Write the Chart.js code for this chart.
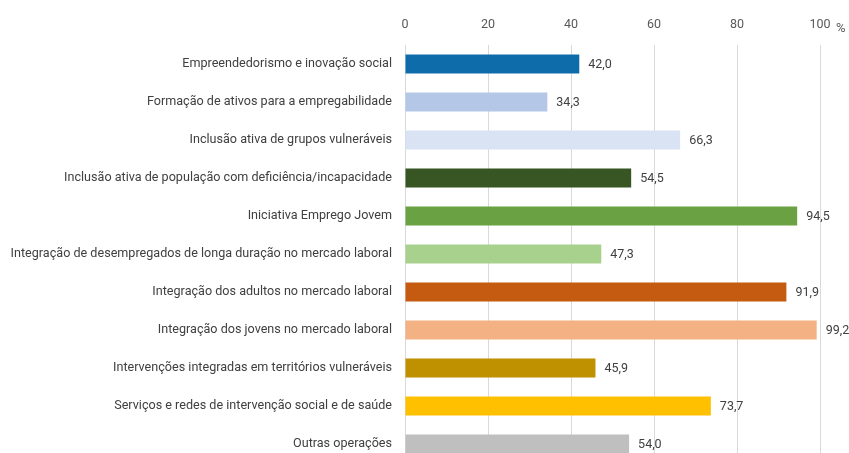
<!DOCTYPE html>
<html lang="pt">
<head>
    <meta charset="UTF-8">
    <title>Taxa por tipologia de operação</title>
    <style>
        html, body {
            margin: 0;
            padding: 0;
            background: #fff;
            overflow: hidden;
        }
        .chart-wrap {
            position: relative;
            width: 849px;
            height: 463px;
        }
    </style>
    <script src="https://cdn.jsdelivr.net/npm/chart.js"></script>
</head>
<body>
    <div class="chart-wrap">
        <canvas id="barChart"></canvas>
    </div>
    <script>
        const categories = [
            "Empreendedorismo e inovação social",
            "Formação de ativos para a empregabilidade",
            "Inclusão ativa de grupos vulneráveis",
            "Inclusão ativa de população com deficiência/incapacidade",
            "Iniciativa Emprego Jovem",
            "Integração de desempregados de longa duração no mercado laboral",
            "Integração dos adultos no mercado laboral",
            "Integração dos jovens no mercado laboral",
            "Intervenções integradas em territórios vulneráveis",
            "Serviços e redes de intervenção social e de saúde",
            "Outras operações"
        ];
        const values = [42.0, 34.3, 66.3, 54.5, 94.5, 47.3, 91.9, 99.2, 45.9, 73.7, 54.0];
        const barColors = [
            "#0f6cab", "#b4c7e7", "#dae3f3", "#375623", "#6aa142", "#a9d18e",
            "#c55a11", "#f4b183", "#bf9000", "#ffc000", "#bfbfbf"
        ];
        const xTicks = [0, 20, 40, 60, 80, 100];
        const unitLabel = "%";

        const fontFamily = "Roboto, 'Liberation Sans', sans-serif";

        // value labels at the end of each bar, plus the "%" unit next to the top axis
        const barLabels = {
            id: 'barLabels',
            afterDatasetsDraw(chart) {
                const ctx = chart.ctx;
                const meta = chart.getDatasetMeta(0);
                ctx.save();
                ctx.font = "12.5px " + fontFamily;
                ctx.fillStyle = "#404040";
                ctx.textAlign = "left";
                ctx.textBaseline = "middle";
                meta.data.forEach((bar, i) => {
                    ctx.fillText(values[i].toFixed(1).replace('.', ','), bar.x + 9, bar.y + 1);
                });
                const xs = chart.scales.x;
                ctx.fillStyle = "#595959";
                ctx.font = "13px " + fontFamily;
                ctx.fillText(unitLabel, xs.getPixelForValue(100) + 16, 29);
                ctx.restore();
            }
        };

        new Chart(document.getElementById('barChart'), {
            type: 'bar',
            data: {
                labels: categories,
                datasets: [{
                    data: values,
                    backgroundColor: barColors,
                    barPercentage: 0.5,
                    categoryPercentage: 1.0
                }]
            },
            options: {
                indexAxis: 'y',
                responsive: true,
                maintainAspectRatio: false,
                animation: false,
                layout: { padding: { left: 0, right: 29, top: 0, bottom: 0 } },
                plugins: {
                    legend: { display: false },
                    tooltip: { enabled: false }
                },
                scales: {
                    x: {
                        position: 'top',
                        min: 0,
                        max: 100,
                        afterBuildTicks(scale) {
                            scale.ticks = xTicks.map(v => ({ value: v }));
                        },
                        afterFit(scale) { scale.height = 45; },
                        grid: {
                            color: "#d9d9d9",
                            lineWidth: 1,
                            drawTicks: false
                        },
                        border: { display: false },
                        ticks: {
                            padding: 13,
                            color: "#595959",
                            font: { family: fontFamily, size: 12.5 }
                        }
                    },
                    y: {
                        afterFit(scale) {
                            scale.width = 405;
                            scale.paddingTop = 0;
                            scale.paddingBottom = 0;
                        },
                        grid: { display: false, drawTicks: false },
                        border: { display: false },
                        ticks: {
                            padding: 13,
                            color: "#404040",
                            font: { family: fontFamily, size: 12.6 }
                        }
                    }
                }
            },
            plugins: [barLabels]
        });
    </script>
</body>
</html>
